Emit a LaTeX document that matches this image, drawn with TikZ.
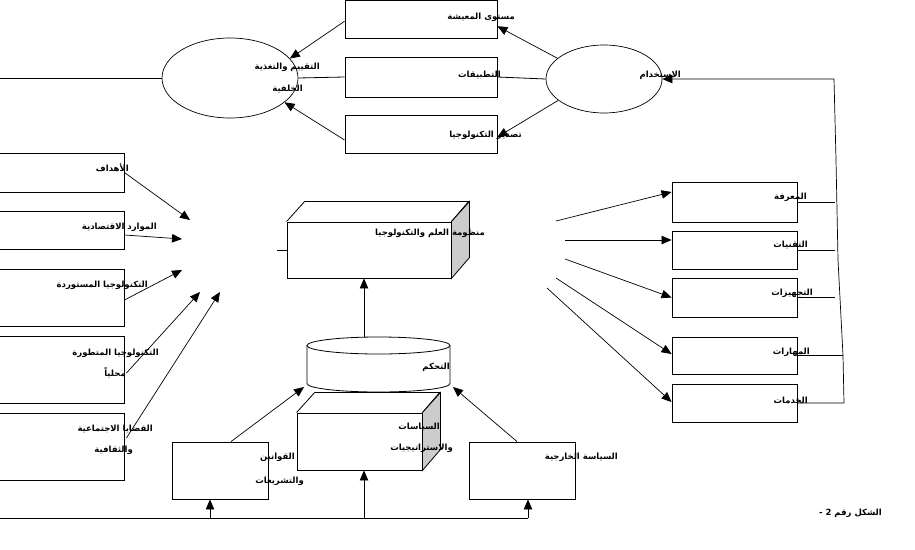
\documentclass[tikz,border=0pt]{standalone}
\usepackage{fontspec}
\newfontfamily\arabicfont[Script=Arabic]{DejaVu Sans}
\TeXXeTstate=1
\usetikzlibrary{arrows.meta,shapes.geometric,calc}
\newcommand\artxt[1]{{\arabicfont\bfseries\beginR #1\endR}}
\tikzset{
  box/.style={draw, line width=0.9pt, fill=white, inner sep=0pt},
  ell/.style={draw, ellipse, line width=0.7pt, inner sep=0pt},
  lbl/.style={font=\fontsize{8.5}{9}\selectfont, inner sep=0pt, anchor=east},
  arr/.style={-{Triangle[length=10pt,width=8.5pt]}, line width=0.7pt},
  ln/.style={line width=0.8pt},
}
\begin{document}
\begin{tikzpicture}[x=1pt,y=-1pt]
\useasboundingbox (0,0) rectangle (915,549);
% ---------- top part ----------
\node[box, minimum width=152pt, minimum height=37.5pt] (b1) at (421,19.25) {};
\node[box, minimum width=152pt, minimum height=40pt] (b2) at (421,77) {};
\node[box, minimum width=152pt, minimum height=38pt] (b3) at (421,134) {};
\node[ell, minimum width=136pt, minimum height=80pt] (e1) at (230,78) {};
\node[ell, minimum width=116pt, minimum height=68pt] (e2) at (604,79) {};
\coordinate (L0) at (0,78);
\draw[ln] (L0) -- (e1.west);
\draw[ln] (e1.east) -- (b2.west);
\draw[ln] (b2.east) -- (e2.west);
\draw[arr] ([yshift=-2pt]b1.west) -- (e1.18);
\draw[arr] ([yshift=-6pt]b3.west) -- (e1.-24);
\draw[arr] (e2.156) -- ([yshift=-7pt]b1.east);
\draw[arr] (e2.205) -- ([yshift=-3pt]b3.east);
\node[lbl] (t1) at (515,17) {\artxt{مستوى المعيشة}};
\node[lbl] (t2) at (501,75) {\artxt{التطبيقات}};
\node[lbl] (t3) at (522,135) {\artxt{تصدير التكنولوجيا}};
\node[lbl] (t4) at (320,67) {\artxt{التقييم والتغذية}};
\node[lbl] (t5) at (303,89) {\artxt{الخلفية}};
\node[lbl] (t6) at (681,75) {\artxt{الاستخدام}};
% ---------- left boxes ----------
\node[box, minimum width=126pt, minimum height=39pt] (l1) at (61,172.5) {};
\node[box, minimum width=126pt, minimum height=38pt] (l2) at (61,230) {};
\node[box, minimum width=126pt, minimum height=57pt] (l3) at (61,297.5) {};
\node[box, minimum width=126pt, minimum height=67pt] (l4) at (61,369.5) {};
\node[box, minimum width=126pt, minimum height=67pt] (l5) at (61,446.5) {};
\coordinate (T1) at (190,220);
\coordinate (T2) at (182,239);
\coordinate (T3) at (182,270);
\coordinate (T4) at (200,292);
\coordinate (T5) at (220,292);
\draw[arr] (l1.east) -- (T1);
\draw[arr] ([yshift=-5pt]l2.east) -- (T2);
\draw[arr] ([yshift=-2.5pt]l3.east) -- (T3);
\draw[arr] ([yshift=-3.5pt,xshift=2pt]l4.east) -- (T4);
\draw[arr] ([yshift=8.5pt,xshift=2pt]l5.east) -- (T5);
\node[lbl] (u1) at (129,168) {\artxt{الأهداف}};
\node[lbl] (u2) at (157,227) {\artxt{الموارد الاقتصادية}};
\node[lbl] (u3) at (148,285) {\artxt{التكنولوجيا المستوردة}};
\node[lbl] (u4) at (159,353) {\artxt{التكنولوجيا المتطورة}};
\node[lbl] (u5) at (126,373) {\artxt{محلياً}};
\node[lbl] (u6) at (153,429) {\artxt{القضايا الاجتماعية}};
\node[lbl] (u7) at (133,450) {\artxt{والثقافية}};
% ---------- central 3D box ----------
\node[box, minimum width=164pt, minimum height=56pt] (M) at (369,250) {};
\draw[ln, fill=white] (M.north west) -- ++(18,-20) -- ++(164,0) -- (M.north east);
\draw[ln, fill=gray!40] (M.north east) -- ++(18,-20) -- ++(0,56) -- (M.south east) -- cycle;
\coordinate (Ms) at (277,250);
\draw[ln] (Ms) -- (M.west);
\node[lbl] (m1) at (485,233) {\artxt{منظومة العلم والتكنولوجيا}};
% ---------- right boxes ----------
\node[box, minimum width=125pt, minimum height=40pt] (r1) at (734.5,202) {};
\node[box, minimum width=125pt, minimum height=38pt] (r2) at (734.5,250) {};
\node[box, minimum width=125pt, minimum height=39pt] (r3) at (734.5,297.5) {};
\node[box, minimum width=125pt, minimum height=37pt] (r4) at (734.5,355.5) {};
\node[box, minimum width=125pt, minimum height=38pt] (r5) at (734.5,403) {};
\coordinate (A1) at (556,221);
\coordinate (A2) at (565,240);
\coordinate (A3) at (565,259);
\coordinate (A4) at (556,278);
\coordinate (A5) at (547,288);
\draw[arr] (A1) -- ([yshift=10pt]r1.west);
\draw[arr] (A2) -- ([yshift=10pt]r2.west);
\draw[arr] (A3) -- (r3.west);
\draw[arr] (A4) -- ([yshift=1.5pt]r4.west);
\draw[arr] (A5) -- ([yshift=1pt]r5.west);
\coordinate (E1) at (835,202);
\coordinate (E2) at (835,250);
\coordinate (E3) at (835,297.5);
\coordinate (V1) at (834,79);
\coordinate (V2) at (836,160);
\coordinate (V3) at (838,260);
\coordinate (V4) at (843,355.5);
\coordinate (V5) at (844,403);
\draw[ln] (r1.east) -- (E1);
\draw[ln] (r2.east) -- (E2);
\draw[ln] (r3.east) -- (E3);
\draw[ln] (r4.east) -- (V4);
\draw[arr] (r5.east) -- (V5) -- (V4) -- (V3) -- (V2) -- (V1) -- (e2.east);
\node[lbl] (k1) at (807,197) {\artxt{المعرفة}};
\node[lbl] (k2) at (808,245) {\artxt{التقنيات}};
\node[lbl] (k3) at (813,293) {\artxt{التجهيزات}};
\node[lbl] (k4) at (810,352) {\artxt{المهارات}};
\node[lbl] (k5) at (808,400) {\artxt{الخدمات}};
% ---------- cylinder ----------
\node[inner sep=0pt, minimum width=143pt, minimum height=55pt] (C) at (378.5,364.5) {};
\draw[ln, fill=white] (307,345.5) -- (307,383.5) arc[start angle=180, end angle=360, x radius=71.5pt, y radius=8.5pt] -- (450,345.5);
\draw[ln, fill=white] (378.5,345.5) ellipse [x radius=71.5pt, y radius=8.5pt];
\coordinate (Ct) at (364,337);
\draw[arr] (Ct) -- ([xshift=-5pt]M.south);
\node[lbl] (c1) at (450,367) {\artxt{التحكم}};
% ---------- lower boxes ----------
\node[box, minimum width=125pt, minimum height=57pt] (S) at (359.5,441.5) {};
\draw[ln, fill=white] (S.north west) -- ++(18,-20) -- ++(125,0) -- (S.north east);
\draw[ln, fill=gray!40] (S.north east) -- ++(18,-20) -- ++(0,57) -- (S.south east) -- cycle;
\node[box, minimum width=96pt, minimum height=57pt] (Q) at (220,470.5) {};
\node[box, minimum width=106pt, minimum height=57pt] (F) at (522,470.5) {};
\coordinate (Cl) at (304,387);
\coordinate (Cr) at (453,387);
\draw[arr] ([xshift=11pt]Q.north) -- (Cl);
\draw[arr] ([xshift=-5pt]F.north) -- (Cr);
\node[lbl] (s1) at (440,427) {\artxt{السياسات}};
\node[lbl] (s2) at (453,448) {\artxt{والاستراتيجيات}};
\node[lbl] (q1) at (295,457) {\artxt{القوانين}};
\node[lbl] (q2) at (304,481) {\artxt{والتشريعات}};
\node[lbl] (f1) at (618,457) {\artxt{السياسة الخارجية}};
% ---------- bottom line ----------
\coordinate (B0) at (0,518);
\coordinate (B1) at (210,518);
\coordinate (B2) at (364,518);
\coordinate (B3) at (528,518);
\draw[ln] (B0) -- (B3);
\draw[arr] (B1) -- ([xshift=-10pt]Q.south);
\draw[arr] (B2) -- ([xshift=4.5pt]S.south);
\draw[arr] (B3) -- ([xshift=6pt]F.south);
\node[lbl] (cap) at (882,513) {\artxt{الشكل رقم 2 -}};
\end{tikzpicture}
\end{document}
